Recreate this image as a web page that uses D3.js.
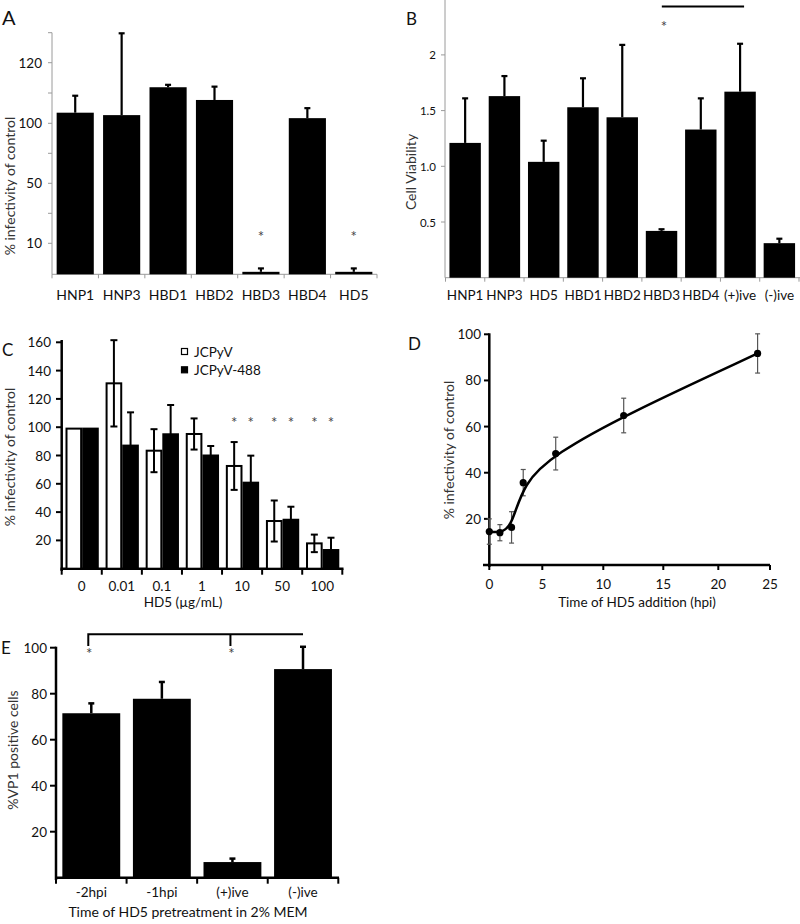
<!DOCTYPE html>
<html><head><meta charset="utf-8">
<script src="https://cdn.jsdelivr.net/npm/d3@7"></script>
<style>body{margin:0;background:#fff}svg{display:block}text{font-family:Lato,"Open Sans",sans-serif;fill:#111}</style>
</head><body>
<svg id="c" width="800" height="924"></svg>
<script>
// ---------- Panel A ----------
const catsA = ["HNP1","HNP3","HBD1","HBD2","HBD3","HBD4","HD5"];
const valsA = [103.5,102.7,111.9,107.7,0.8,101.7,0.8];
const errA  = [5.6,27.1,0.8,4.4,1.1,3.3,1.1];
const sigA  = [false,false,false,false,true,false,true];
const ticksA = [10,50,100,120];
const minorA = [30,75,110,130];
// ---------- Panel B ----------
const catsB = ["HNP1","HNP3","HD5","HBD1","HBD2","HBD3","HBD4","(+)ive","(-)ive"];
const valsB = [1.21,1.63,1.04,1.53,1.44,0.42,1.33,1.67,0.31];
const errB  = [0.40,0.18,0.19,0.26,0.65,0.015,0.28,0.43,0.04];
const ticksB = [0.5,1.0,1.5,2];
const tickLabelsB = ["0.5","1.0","1.5","2"];
// ---------- Panel C ----------
const dosesC = ["0","0.01","0.1","1","10","50","100"];
const seriesC = ["JCPyV","JCPyV-488"];
const jcpyv    = [99,131,83.4,95.2,72.6,33.7,17.9];
const jcpyvErr = [0,30.5,15.2,11,16.9,14.5,6.2];
const jc488    = [99,87,95,80,60.8,34.6,13.2];
const jc488Err = [0,23.5,20.7,6.7,19.1,9.2,8.7];
const sigC = ["10","50","100"];
const ticksC = [20,40,60,80,100,120,140,160];
// ---------- Panel D ----------
const timeD = [0,1,2.1,3.2,6.1,11.7,23.8];
const infD  = [14.5,14.0,16.3,35.7,48.3,64.8,91.7];
const errD  = [5.5,3.5,6.8,5.7,7.1,7.5,8.5];
const ticksDx = [0,5,10,15,20,25];
const ticksDy = [20,40,60,80,100];
// ---------- Panel E ----------
const catsE = ["-2hpi","-1hpi","(+)ive","(-)ive"];
const valsE = [71.5,77.8,6.8,90.7];
const errE  = [4.3,7.3,1.5,9.7];
const ticksE = [20,40,60,80,100];

const svg = d3.select("#c");

function panelLabel(t,x,y,size){svg.append("text").attr("x",x).attr("y",y).attr("font-size",size).text(t);}
function yTitle(t,x,y,size){svg.append("text").attr("transform",`translate(${x},${y}) rotate(-90)`).attr("text-anchor","middle").attr("dominant-baseline","central").attr("font-size",size).style("fill","#333").text(t);}

// ===== A =====
{
  const y = d3.scaleLinear().domain([0,10,50,100,120,130]).range([274.3,243.3,183.3,123.3,62.7,32.7]);
  const x = d3.scaleBand().domain(catsA).range([52,377]).paddingInner(0.2).paddingOuter(0.1);
  const g = svg.append("g");
  const gc="#9a9a9a";
  g.append("line").attr("x1",52).attr("x2",52).attr("y1",y(130)).attr("y2",y(0)).attr("stroke",gc);
  g.append("line").attr("x1",52).attr("x2",377).attr("y1",y(0)).attr("y2",y(0)).attr("stroke",gc);
  [...ticksA,...minorA].forEach(v=>g.append("line").attr("x1",48).attr("x2",52).attr("y1",y(v)).attr("y2",y(v)).attr("stroke",gc));
  ticksA.forEach(v=>g.append("text").attr("x",42).attr("y",y(v)).attr("text-anchor","end").attr("dominant-baseline","central").attr("font-size",13.5).text(v));
  const step=x.step();
  d3.range(catsA.length+1).forEach(i=>{const xx=52+i*step; g.append("line").attr("x1",xx).attr("x2",xx).attr("y1",y(0)).attr("y2",y(0)+4).attr("stroke",gc);});
  catsA.forEach((c,i)=>{
    const cx=x(c)+x.bandwidth()/2;
    g.append("line").attr("x1",cx).attr("x2",cx).attr("y1",y(valsA[i])).attr("y2",y(valsA[i]+errA[i])).attr("stroke","#000").attr("stroke-width",2.2);
    g.append("line").attr("x1",cx-3).attr("x2",cx+3).attr("y1",y(valsA[i]+errA[i])).attr("y2",y(valsA[i]+errA[i])).attr("stroke","#000").attr("stroke-width",2.2);
    g.append("rect").attr("x",x(c)).attr("width",x.bandwidth()).attr("y",y(valsA[i])).attr("height",y(0)-y(valsA[i])).attr("fill","#000");
    g.append("text").attr("x",cx).attr("y",300).attr("text-anchor","middle").attr("font-size",14).text(c);
    if(sigA[i]) g.append("text").attr("x",cx).attr("y",242).attr("text-anchor","middle").attr("font-size",15).style("fill","#444").text("*");
  });
  yTitle("% infectivity of control",9,186,14);
  panelLabel("A",2,25,20);
}

// ===== B =====
{
  const y = d3.scaleLinear().domain([0,2.5]).range([277.7,-0.8]);
  const x = d3.scaleBand().domain(catsB).range([445.5,799]).paddingInner(0.2).paddingOuter(0.1);
  const g = svg.append("g");
  const gc="#9a9a9a";
  g.append("line").attr("x1",445).attr("x2",445).attr("y1",0).attr("y2",y(0)).attr("stroke",gc);
  g.append("line").attr("x1",445).attr("x2",800).attr("y1",y(0)).attr("y2",y(0)).attr("stroke",gc);
  ticksB.forEach((v,i)=>{
    g.append("line").attr("x1",441).attr("x2",445).attr("y1",y(v)).attr("y2",y(v)).attr("stroke",gc);
    g.append("text").attr("x",436).attr("y",y(v)).attr("text-anchor","end").attr("dominant-baseline","central").attr("font-size",11.5).text(tickLabelsB[i]);
  });
  const step=x.step();
  d3.range(catsB.length+1).forEach(i=>{const xx=445.5+i*step; g.append("line").attr("x1",xx).attr("x2",xx).attr("y1",y(0)).attr("y2",y(0)+4).attr("stroke",gc);});
  catsB.forEach((c,i)=>{
    const cx=x(c)+x.bandwidth()/2;
    const top=y(valsB[i]+errB[i]);
    g.append("line").attr("x1",cx).attr("x2",cx).attr("y1",y(valsB[i])).attr("y2",top).attr("stroke","#000").attr("stroke-width",2.2);
    g.append("line").attr("x1",cx-3).attr("x2",cx+3).attr("y1",top).attr("y2",top).attr("stroke","#000").attr("stroke-width",2.2);
    g.append("rect").attr("x",x(c)).attr("width",x.bandwidth()).attr("y",y(valsB[i])).attr("height",y(0)-y(valsB[i])).attr("fill","#000");
    g.append("text").attr("x",cx).attr("y",300).attr("text-anchor","middle").attr("font-size",13.5).text(c);
  });
  // significance bracket
  const xs = x("HBD3"), xe = x("(+)ive")+x.bandwidth()/2;
  g.append("line").attr("x1",xs+16).attr("x2",xe+4).attr("y1",6.5).attr("y2",6.5).attr("stroke","#000").attr("stroke-width",2);
  g.append("text").attr("x",xs+18).attr("y",32).attr("text-anchor","middle").attr("font-size",15).style("fill","#444").text("*");
  yTitle("Cell Viability",410,172,14);
  panelLabel("B",406,25,17);
}

// ===== C =====
{
  const y = d3.scaleLinear().domain([0,160]).range([568.7,342.3]);
  const x0 = d3.scaleBand().domain(dosesC).range([61.7,342.3]);
  const x1 = d3.scaleBand().domain(seriesC).range([3.8,x0.bandwidth()-3]);
  const g = svg.append("g");
  g.append("line").attr("x1",61.7).attr("x2",61.7).attr("y1",340).attr("y2",571).attr("stroke","#000").attr("stroke-width",2.5);
  g.append("line").attr("x1",60.5).attr("x2",343.5).attr("y1",y(0)).attr("y2",y(0)).attr("stroke","#000").attr("stroke-width",2.5);
  ticksC.forEach(v=>{
    g.append("line").attr("x1",56).attr("x2",61.7).attr("y1",y(v)).attr("y2",y(v)).attr("stroke","#000").attr("stroke-width",2);
    g.append("text").attr("x",51).attr("y",y(v)).attr("text-anchor","end").attr("dominant-baseline","central").attr("font-size",13.5).text(v);
  });
  d3.range(dosesC.length+1).forEach(i=>{const xx=61.7+i*x0.step(); g.append("line").attr("x1",xx).attr("x2",xx).attr("y1",y(0)).attr("y2",y(0)+6).attr("stroke","#000").attr("stroke-width",2);});
  const sets=[{v:jcpyv,e:jcpyvErr,fill:"#fff",s:seriesC[0]},{v:jc488,e:jc488Err,fill:"#000",s:seriesC[1]}];
  dosesC.forEach((d,i)=>{
    sets.forEach(st=>{
      const bx=x0(d)+x1(st.s), bw=x1.bandwidth(), cx=bx+bw/2;
      const v=st.v[i], e=st.e[i];
      g.append("rect").attr("x",bx+1).attr("width",bw-2).attr("y",y(v)).attr("height",y(0)-y(v)).attr("fill",st.fill).attr("stroke","#000").attr("stroke-width",2);
      if(e>0){
        g.append("line").attr("x1",cx).attr("x2",cx).attr("y1",y(v-e)).attr("y2",y(v+e)).attr("stroke","#000").attr("stroke-width",2);
        [v+e, v-e].forEach(t=>g.append("line").attr("x1",cx-3.5).attr("x2",cx+3.5).attr("y1",y(t)).attr("y2",y(t)).attr("stroke","#000").attr("stroke-width",2));
      }
      if(sigC.includes(d)) g.append("text").attr("x",cx).attr("y",428).attr("text-anchor","middle").attr("font-size",15).style("fill","#444").text("*");
    });
    g.append("text").attr("x",x0(d)+x0.bandwidth()/2).attr("y",591).attr("text-anchor","middle").attr("font-size",13.5).text(d);
  });
  g.append("text").attr("x",183).attr("y",607).attr("text-anchor","middle").attr("font-size",13.5).text("HD5 (µg/mL)");
  // legend
  sets.forEach((st,i)=>{
    g.append("rect").attr("x",181.5).attr("y",348.5+i*18.3).attr("width",6).attr("height",6).attr("fill",st.fill).attr("stroke","#000").attr("stroke-width",1.2);
    g.append("text").attr("x",194).attr("y",351.5+i*18.3).attr("dominant-baseline","central").attr("font-size",13.5).text(st.s);
  });
  yTitle("% infectivity of control",9,457,14);
  panelLabel("C",2,356,17);
}

// ===== D =====
{
  const x = d3.scaleLinear().domain([0,5,10,15,20,25]).range([489.3,542.3,603.3,663.3,718.3,770]);
  const y = d3.scaleLinear().domain([0,100]).range([565,334.3]);
  const g = svg.append("g");
  g.append("line").attr("x1",489.3).attr("x2",489.3).attr("y1",y(100)-1).attr("y2",567).attr("stroke","#000").attr("stroke-width",2.5);
  g.append("line").attr("x1",483).attr("x2",770).attr("y1",y(0)).attr("y2",y(0)).attr("stroke","#000").attr("stroke-width",2.5);
  ticksDy.forEach(v=>{
    g.append("line").attr("x1",484).attr("x2",489.3).attr("y1",y(v)).attr("y2",y(v)).attr("stroke","#000").attr("stroke-width",2);
    g.append("text").attr("x",481).attr("y",y(v)).attr("text-anchor","end").attr("dominant-baseline","central").attr("font-size",13.5).text(v);
  });
  ticksDx.forEach(v=>{
    g.append("line").attr("x1",x(v)).attr("x2",x(v)).attr("y1",y(0)).attr("y2",y(0)+5).attr("stroke","#000").attr("stroke-width",2);
    g.append("text").attr("x",x(v)).attr("y",589).attr("text-anchor","middle").attr("font-size",13.5).text(v);
  });
  g.append("text").attr("x",637).attr("y",607).attr("text-anchor","middle").attr("font-size",13.5).text("Time of HD5 addition (hpi)");
  // error bars
  timeD.forEach((t,i)=>{
    const cx=x(t);
    g.append("line").attr("x1",cx).attr("x2",cx).attr("y1",y(infD[i]-errD[i])).attr("y2",y(infD[i]+errD[i])).attr("stroke","#555").attr("stroke-width",1.2);
    [infD[i]-errD[i],infD[i]+errD[i]].forEach(v=>g.append("line").attr("x1",cx-2.5).attr("x2",cx+2.5).attr("y1",y(v)).attr("y2",y(v)).attr("stroke","#555").attr("stroke-width",1.2));
  });
  const line=d3.line().x((d,i)=>x(timeD[i])).y(d=>y(d)).curve(d3.curveBasis);
  g.append("path").attr("d",line(infD)).attr("fill","none").attr("stroke","#000").attr("stroke-width",2.5);
  timeD.forEach((t,i)=>g.append("circle").attr("cx",x(t)).attr("cy",y(infD[i])).attr("r",3.6).attr("fill","#000"));
  yTitle("% infectivity of control",448,450,14);
  panelLabel("D",408,350,17);
}

// ===== E =====
{
  const y = d3.scaleLinear().domain([0,100]).range([877.7,647.7]);
  const x = d3.scaleBand().domain(catsE).range([56,338.3]).paddingInner(0.18).paddingOuter(0.09);
  const g = svg.append("g");
  g.append("line").attr("x1",56).attr("x2",56).attr("y1",y(100)-1).attr("y2",880).attr("stroke","#000").attr("stroke-width",2.5);
  g.append("line").attr("x1",55).attr("x2",339).attr("y1",y(0)).attr("y2",y(0)).attr("stroke","#000").attr("stroke-width",2.5);
  ticksE.forEach(v=>{
    g.append("line").attr("x1",50).attr("x2",56).attr("y1",y(v)).attr("y2",y(v)).attr("stroke","#000").attr("stroke-width",2);
    g.append("text").attr("x",47).attr("y",y(v)).attr("text-anchor","end").attr("dominant-baseline","central").attr("font-size",13.5).text(v);
  });
  d3.range(catsE.length+1).forEach(i=>{const xx=56+i*x.step(); g.append("line").attr("x1",xx).attr("x2",xx).attr("y1",y(0)).attr("y2",y(0)+6).attr("stroke","#000").attr("stroke-width",2);});
  catsE.forEach((c,i)=>{
    const cx=x(c)+x.bandwidth()/2, top=y(valsE[i]+errE[i]);
    g.append("line").attr("x1",cx).attr("x2",cx).attr("y1",y(valsE[i])).attr("y2",top).attr("stroke","#000").attr("stroke-width",2.5);
    g.append("line").attr("x1",cx-3).attr("x2",cx+3).attr("y1",top).attr("y2",top).attr("stroke","#000").attr("stroke-width",2.5);
    g.append("rect").attr("x",x(c)).attr("width",x.bandwidth()).attr("y",y(valsE[i])).attr("height",y(0)-y(valsE[i])).attr("fill","#000");
    g.append("text").attr("x",cx).attr("y",897).attr("text-anchor","middle").attr("font-size",13.5).text(c);
  });
  // bracket
  const bx1 = x("-2hpi")+x.bandwidth()/2-3, bx2 = x("(+)ive")+x.bandwidth()/2-2, bx3=x("(-)ive")+x.bandwidth()/2;
  g.append("path").attr("d",`M${bx1},${646}V${634.3}H${bx3}M${bx2},${634.3}V${646}`).attr("fill","none").attr("stroke","#000").attr("stroke-width",2);
  [bx1,bx2].forEach(bx=>g.append("text").attr("x",bx+1).attr("y",659).attr("text-anchor","middle").attr("font-size",15).style("fill","#444").text("*"));
  g.append("text").attr("x",188).attr("y",917).attr("text-anchor","middle").attr("font-size",14).text("Time of HD5 pretreatment in 2% MEM");
  yTitle("%VP1 positive cells",12,750,14);
  panelLabel("E",1,654,17);
}
</script>
</body></html>
